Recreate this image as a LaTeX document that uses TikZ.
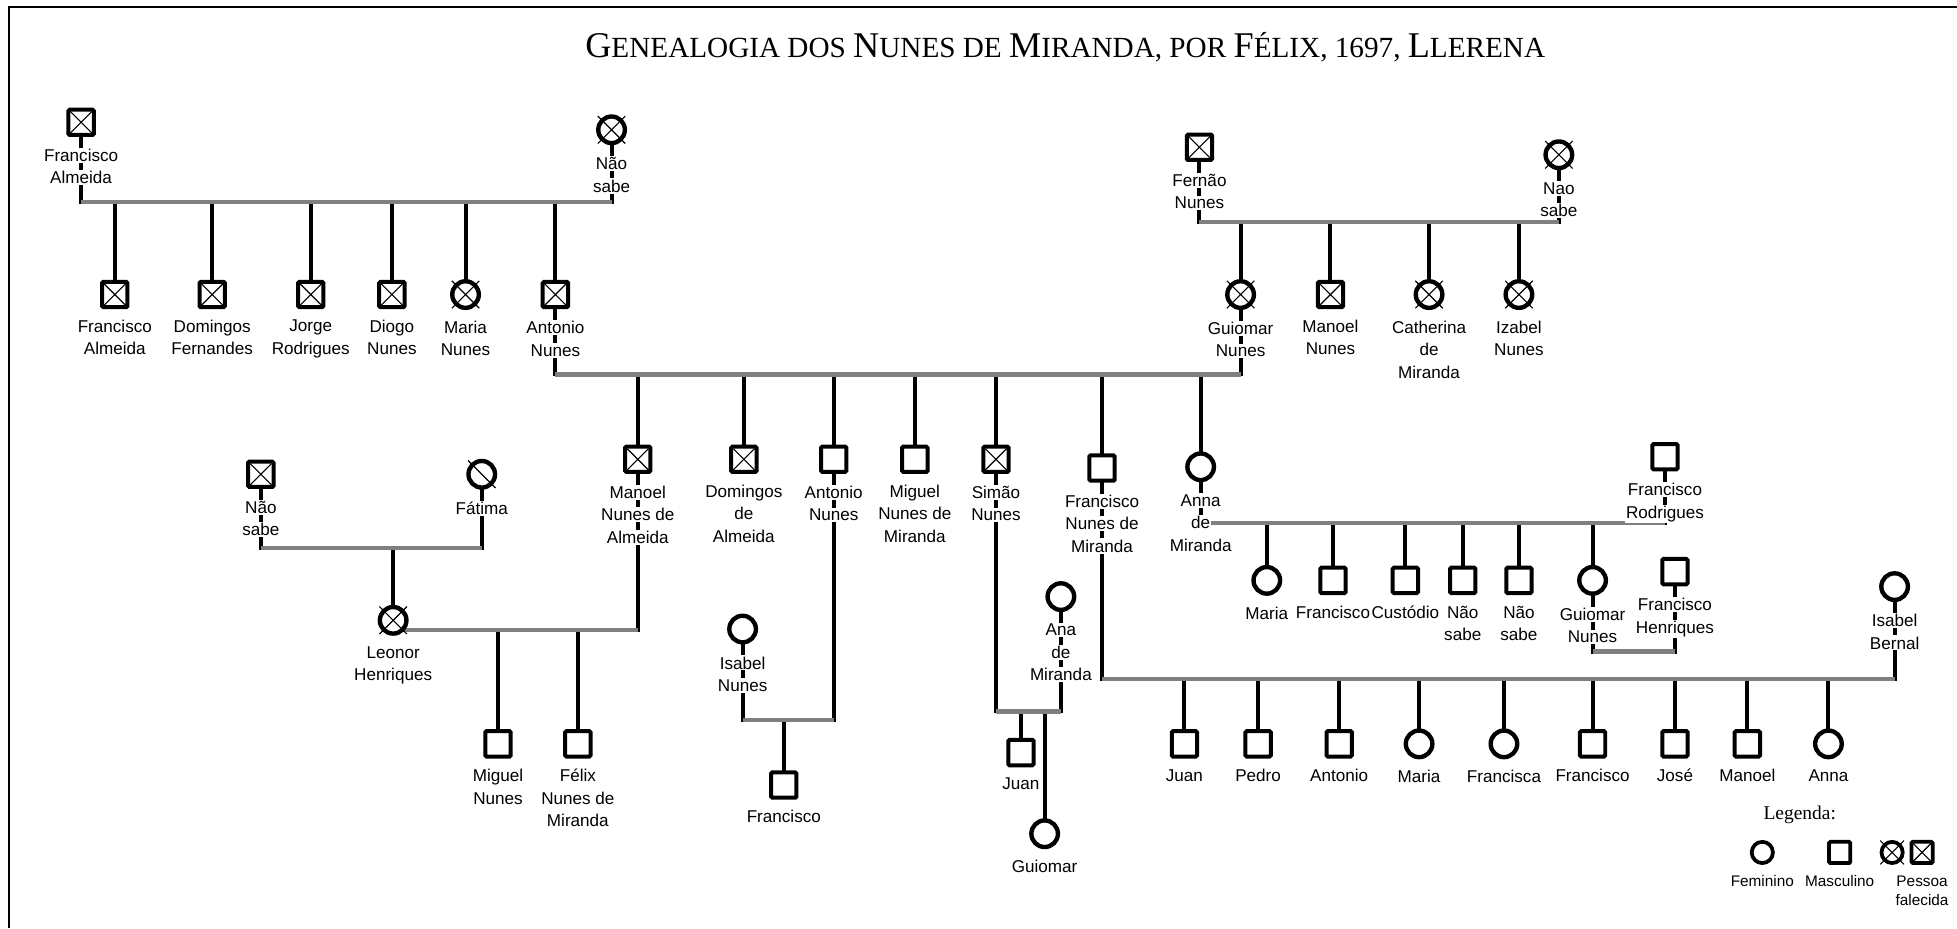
\documentclass[tikz,border=0pt]{standalone}
\usepackage{fontspec}
\setmainfont{Liberation Sans}
\newfontfamily\titlefont{Liberation Serif}
\usetikzlibrary{backgrounds}

\setlength{\fboxsep}{1pt}
\newcommand{\wb}[1]{\colorbox{white}{#1}}
\newcommand{\tg}[1]{{\fontsize{29}{32}\selectfont #1}}
\newcommand{\tp}[1]{{\fontsize{23.4}{28}\selectfont #1}}

\begin{document}
\begin{tikzpicture}[x=1pt, y=-1pt,
    masc/.style={draw, rectangle, rounded corners=1pt, line width=3.2pt, minimum size=20.3pt, inner sep=0pt, fill=white},
    fem/.style={draw, circle, line width=3.5pt, minimum size=21.3pt, inner sep=0pt, fill=white},
    lmasc/.style={masc, line width=3pt, minimum size=17pt},
    lfem/.style={fem, line width=3pt, minimum size=17pt},
    kid/.style={line width=3.2pt, line cap=rect},
    casal/.style={line width=3.4pt, gray},
    cruz/.style={line width=0.9pt},
    every label/.style={font=\fontsize{13.7}{18}\selectfont, align=center, inner sep=0pt},
    label distance=8.5pt]
\useasboundingbox (0,0) rectangle (1568,743.6);

\node[font=\titlefont] (titulo) at (853.5,38) {\tg{G}\tp{ENEALOGIA DOS }\tg{N}\tp{UNES DE }\tg{M}\tp{IRANDA, POR }\tg{F}\tp{ÉLIX, 1697, }\tg{L}\tp{LERENA}};

% avos
\node[masc, label=below:{\wb{Francisco}\\\wb{Almeida}}] (fa) at (65,98) {};
\node[fem, label=below:{\wb{Não}\\\wb{sabe}}] (ns1) at (490,104) {};
\node[masc, label=below:{\wb{Fernão}\\\wb{Nunes}}] (fn) at (961,118) {};
\node[fem, label=below:{\wb{Nao}\\\wb{sabe}}] (ns2) at (1249,124) {};

% filhos de Francisco Almeida
\node[masc, label=below:{Francisco\\Almeida}] (c1) at (92,236) {};
\node[masc, label=below:{Domingos\\Fernandes}] (c2) at (170,236) {};
\node[masc, label=below:{Jorge\\Rodrigues}] (c3) at (249,236) {};
\node[masc, label=below:{Diogo\\Nunes}] (c4) at (314,236) {};
\node[fem, label=below:{Maria\\Nunes}] (c5) at (373,236) {};
\node[masc, label=below:{\wb{Antonio}\\\wb{Nunes}}] (an) at (445,236) {};

% filhos de Fernao Nunes
\node[fem, label=below:{\wb{Guiomar}\\\wb{Nunes}}] (gn) at (994,236) {};
\node[masc, label=below:{Manoel\\Nunes}] (mn) at (1066,236) {};
\node[fem, label=below:{Catherina\\de\\Miranda}] (cm) at (1145,236) {};
\node[fem, label=below:{Izabel\\Nunes}] (iz) at (1217,236) {};

% filhos de Antonio e Guiomar
\node[masc, label=below:{\wb{Manoel}\\\wb{Nunes de}\\\wb{Almeida}}] (mna) at (511,368) {};
\node[masc, label=below:{Domingos\\de\\Almeida}] (dda) at (596,368) {};
\node[masc, label=below:{\wb{Antonio}\\\wb{Nunes}}] (an2) at (668,368) {};
\node[masc, label=below:{Miguel\\Nunes de\\Miranda}] (mnm) at (733,368) {};
\node[masc, label=below:{\wb{Simão}\\\wb{Nunes}}] (sn) at (798,368) {};
\node[masc, label=below:{\wb{Francisco}\\\wb{Nunes de}\\\wb{Miranda}}] (fnm) at (883,375) {};
\node[fem, label=below:{\wb{Anna}\\\wb{de}\\\wb{Miranda}}] (am) at (962,374) {};

% Leonor Henriques
\node[masc, label=below:{\wb{Não}\\\wb{sabe}}] (ns3) at (209,380) {};
\node[fem, label=below:{\wb{Fátima}}] (fat) at (386,380) {};
\node[fem, label=below:{Leonor\\Henriques}] (lh) at (315,497) {};
\node[masc, label=below:{Miguel\\Nunes}] (mi) at (399,596) {};
\node[masc, label=below:{Félix\\Nunes de\\Miranda}] (fe) at (463,596) {};

% Isabel Nunes
\node[fem, label=below:{\wb{Isabel}\\\wb{Nunes}}] (isn) at (595,504) {};
\node[masc, label=below:{Francisco}] (fr) at (628,629) {};

% Ana de Miranda
\node[fem, label=below:{\wb{Ana}\\\wb{de}\\\wb{Miranda}}] (ana) at (850,478) {};
\node[masc, label=below:{Juan}] (ju) at (818,603) {};
\node[fem, label=below:{Guiomar}] (gu) at (837,668) {};

% Francisco Rodrigues
\node[masc, label=below:{\wb{Francisco}\\\wb{Rodrigues}}] (fro) at (1334,366) {};
\node[fem, label=below:{Maria}] (k1) at (1015,465) {};
\node[masc, label=below:{Francisco}] (k2) at (1068,465) {};
\node[masc, label=below:{Custódio}] (k3) at (1126,465) {};
\node[masc, label=below:{Não\\sabe}] (k4) at (1172,465) {};
\node[masc, label=below:{Não\\sabe}] (k5) at (1217,465) {};
\node[fem, label=below:{\wb{Guiomar}\\\wb{Nunes}}] (k6) at (1276,465) {};
\node[masc, label=below:{\wb{Francisco}\\\wb{Henriques}}] (fh) at (1342,458) {};

% Isabel Bernal
\node[fem, label=below:{\wb{Isabel}\\\wb{Bernal}}] (ib) at (1518,470) {};
\node[masc, label=below:{Juan}] (j1) at (949,596) {};
\node[masc, label=below:{Pedro}] (j2) at (1008,596) {};
\node[masc, label=below:{Antonio}] (j3) at (1073,596) {};
\node[fem, label=below:{Maria}] (j4) at (1137,596) {};
\node[fem, label=below:{Francisca}] (j5) at (1205,596) {};
\node[masc, label=below:{Francisco}] (j6) at (1276,596) {};
\node[masc, label=below:{José}] (j7) at (1342,596) {};
\node[masc, label=below:{Manoel}] (j8) at (1400,596) {};
\node[fem, label=below:{Anna}] (j9) at (1465,596) {};

% legenda
\node[font=\titlefont\fontsize{15.6}{18}\selectfont] (leg) at (1442,653) {Legenda:};
\node[lfem, label distance=11pt, label={[font=\fontsize{12.3}{15.5}\selectfont]below:Feminino}] (lf) at (1412,683) {};
\node[lmasc, label distance=11pt, label={[font=\fontsize{12.3}{15.5}\selectfont]below:Masculino}] (lm) at (1474,683) {};
\node[lfem] (ldf) at (1516,683) {};
\node[lmasc, label distance=11pt, label={[font=\fontsize{12.3}{15.5}\selectfont]below:Pessoa\\falecida}] (ldm) at (1540,683) {};

% falecidos
\foreach \n in {fa,c1,c2,c3,c4,an,fn,mn,mna,dda,sn,ns3}
  \draw[cruz] (\n.center) ++(-8.5,-8.5) -- ++(17,17) ++(0,-17) -- ++(-17,17);
\foreach \n in {ns1,c5,gn,cm,iz,ns2,lh}
  \draw[cruz] (\n.center) ++(-11,-11) -- ++(22,22) ++(0,-22) -- ++(-22,22);
\draw[cruz] (fat.center) ++(-11,-11) -- ++(22,22);
\draw[cruz] (ldf.center) ++(-9.5,-9.5) -- ++(19,19) ++(0,-19) -- ++(-19,19);
\draw[cruz] (ldm.center) ++(-7,-7) -- ++(14,14) ++(0,-14) -- ++(-14,14);

\begin{scope}[on background layer]
  \fill[white] (0,0) rectangle (1568,743.6);
  \draw[line width=1.8pt] (7,743.6) -- (7,5.6) -- (1568,5.6);

  % Francisco Almeida e Nao sabe
  \draw[kid] (fa.center) -- (fa |- 0,162) (ns1.center) -- (ns1 |- 0,162)
    (c1.center) -- (c1 |- 0,162) (c2.center) -- (c2 |- 0,162) (c3.center) -- (c3 |- 0,162)
    (c4.center) -- (c4 |- 0,162) (c5.center) -- (c5 |- 0,162) (an.center) -- (an |- 0,162);
  \draw[casal] (fa |- 0,162) -- (ns1 |- 0,162);

  % Fernao Nunes e Nao sabe
  \draw[kid] (fn.center) -- (fn |- 0,178) (ns2.center) -- (ns2 |- 0,178)
    (gn.center) -- (gn |- 0,178) (mn.center) -- (mn |- 0,178)
    (cm.center) -- (cm |- 0,178) (iz.center) -- (iz |- 0,178);
  \draw[casal] (fn |- 0,178) -- (ns2 |- 0,178);

  % Antonio Nunes e Guiomar Nunes
  \draw[kid] (an.center) -- (an |- 0,300) (gn.center) -- (gn |- 0,300)
    (mna.center) -- (mna |- 0,300) (dda.center) -- (dda |- 0,300) (an2.center) -- (an2 |- 0,300)
    (mnm.center) -- (mnm |- 0,300) (sn.center) -- (sn |- 0,300) (fnm.center) -- (fnm |- 0,300)
    (am.center) -- (am |- 0,300);
  \draw[casal] (an |- 0,300) -- (gn |- 0,300);

  % Nao sabe e Fatima
  \draw[kid] (ns3.center) -- (ns3 |- 0,439) (fat.center) -- (fat |- 0,439) (lh.center) -- (lh |- 0,439);
  \draw[casal] (ns3 |- 0,439) -- (fat |- 0,439);

  % Leonor e Manoel
  \draw[kid] (mna.center) -- (mna |- 0,505) (mi.center) -- (mi |- 0,505) (fe.center) -- (fe |- 0,505);
  \draw[casal] (lh |- 0,505) -- (mna |- 0,505);

  % Isabel Nunes e Antonio
  \draw[kid] (an2.center) -- (an2 |- 0,577) (isn.center) -- (isn |- 0,577) (fr.center) -- (fr |- 0,577);
  \draw[casal] (isn |- 0,577) -- (an2 |- 0,577);

  % Simao e Ana de Miranda
  \draw[kid] (sn.center) -- (sn |- 0,570) (ana.center) -- (ana |- 0,570)
    (ju.center) -- (ju |- 0,570) (gu.center) -- (gu |- 0,570);
  \draw[casal] (sn |- 0,570) -- (ana |- 0,570);

  % Francisco e Isabel Bernal
  \draw[kid] (fnm.center) -- (fnm |- 0,544) (ib.center) -- (ib |- 0,544)
    (j1.center) -- (j1 |- 0,544) (j2.center) -- (j2 |- 0,544) (j3.center) -- (j3 |- 0,544)
    (j4.center) -- (j4 |- 0,544) (j5.center) -- (j5 |- 0,544) (j6.center) -- (j6 |- 0,544)
    (j7.center) -- (j7 |- 0,544) (j8.center) -- (j8 |- 0,544) (j9.center) -- (j9 |- 0,544);
  \draw[casal] (fnm |- 0,544) -- (ib |- 0,544);

  % Anna e Francisco Rodrigues
  \draw[kid] (am.center) -- (am |- 0,419) (fro.center) -- (fro |- 0,419)
    (k1.center) -- (k1 |- 0,419) (k2.center) -- (k2 |- 0,419) (k3.center) -- (k3 |- 0,419)
    (k4.center) -- (k4 |- 0,419) (k5.center) -- (k5 |- 0,419) (k6.center) -- (k6 |- 0,419);
  \draw[casal] (am |- 0,419) -- (fro |- 0,419);

  % Guiomar Nunes e Francisco Henriques
  \draw[kid] (k6.center) -- (k6 |- 0,522) (fh.center) -- (fh |- 0,522);
  \draw[casal] (k6 |- 0,522) -- (fh |- 0,522);
\end{scope}
\end{tikzpicture}
\end{document}
